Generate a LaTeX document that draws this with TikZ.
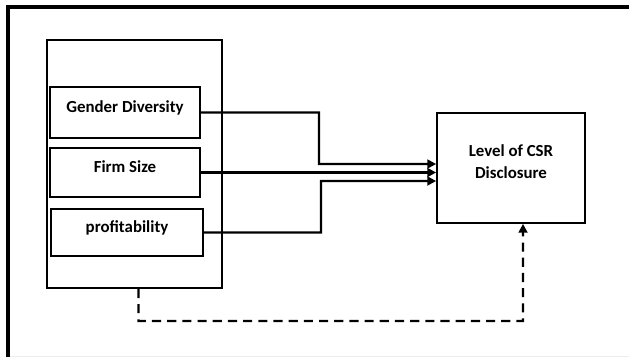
\documentclass[tikz,border=0pt]{standalone}
\usepackage{fontspec}
\setmainfont{Carlito}
\usepackage{tikz}
\usetikzlibrary{arrows.meta}

\tikzset{
  varbox/.style={draw, line width=1.2pt, inner sep=0pt, minimum width=3.75cm,
    text height=8pt, text depth=8pt, font=\fontsize{12}{14}\selectfont\bfseries},
  link/.style={line width=1.6pt, -{Triangle[length=2.2mm,width=2.2mm]}},
  dashlink/.style={line width=1.6pt, dash pattern=on 6.5pt off 4.3pt,
    -{Triangle[length=2.2mm,width=2.2mm]}}
}

\begin{document}
\begin{tikzpicture}[x=0.025cm, y=-0.025cm]
\useasboundingbox (0,0) rectangle (629,357);
% Frame
\draw[line width=3pt] (8,357) -- (8,7) -- (629,7);
\draw[gray!15, line width=0.6pt] (10,356) -- (629,356);

% Independent variables
\node[draw, line width=1.2pt, minimum width=4.375cm, minimum height=6.2cm] (grp) at (134.5,164) {};
\node[varbox, minimum height=1.275cm] (gd) at (125,112.5) {Gender Diversity};
\node[varbox, minimum height=1.225cm] (fs) at (125,172.5) {Firm Size};
\node[varbox, minimum width=3.8cm, minimum height=1.175cm] (pr) at (127,232.5) {profitability};

% Dependent variable
\node[draw, line width=1.2pt, minimum width=3.7cm, minimum height=2.75cm, align=center,
  text height=15.6pt, text depth=0pt, font=\fontsize{12}{16.3}\selectfont\bfseries] (csr) at (511,168)
  {Level of CSR\\Disclosure};

% Connectors
\draw[link] (gd.east) -| (319,164) -- ([yshift=0.1cm]csr.west);
\draw[link] (fs.east) -- (fs.east -| csr.west);
\draw[link] (pr.east) -| (321,181) -- ([yshift=-0.325cm]csr.west);
\draw[dashlink] ([xshift=0.1cm]grp.south) |- (523,321) -- ([xshift=0.3cm]csr.south);
\end{tikzpicture}
\end{document}
